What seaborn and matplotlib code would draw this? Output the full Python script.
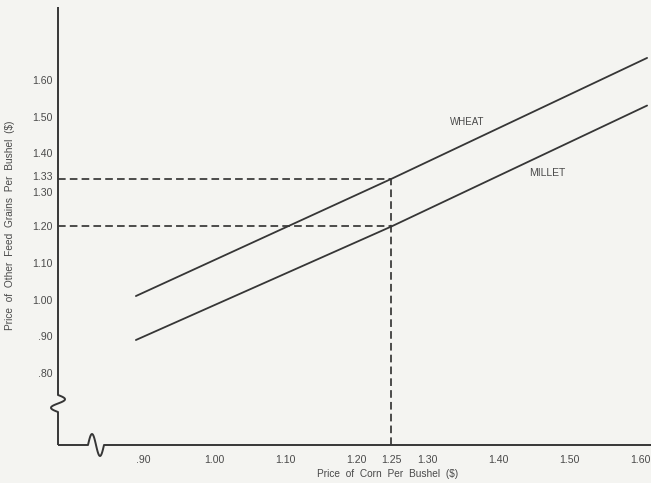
import numpy as np
import pandas as pd
import seaborn as sns
import matplotlib.pyplot as plt
import matplotlib.transforms as mtransforms

# Values
corn_price = [0.89, 1.25, 1.61]
wheat_price = [1.01, 1.33, 1.66]
millet_price = [0.89, 1.20, 1.53]

# Reference point marked with dashed guides
marked_corn = 1.25
marked_wheat = 1.33
marked_millet = 1.20

x_ticks = [0.90, 1.00, 1.10, 1.20, 1.25, 1.30, 1.40, 1.50, 1.60]
x_tick_labels = [".90", "1.00", "1.10", "1.20", "1.25", "1.30", "1.40", "1.50", "1.60"]
y_ticks = [0.80, 0.90, 1.00, 1.10, 1.20, 1.30, 1.33, 1.40, 1.50, 1.60]
y_tick_labels = [".80", ".90", "1.00", "1.10", "1.20", "1.30", "1.33", "1.40", "1.50", "1.60"]

df = pd.DataFrame({"corn": corn_price, "wheat": wheat_price, "millet": millet_price})

sns.set_style("white")
plt.rcParams['font.family'] = ['Liberation Sans', 'DejaVu Sans']

bg = "#f4f4f1"
ink = "#363636"
text_c = "#4a4a4a"

W, H = 651, 483
fig = plt.figure(figsize=(W / 100, H / 100), dpi=100, facecolor=bg)
# axes frame in pixels: left 58, bottom 445, top 7, right edge
ax_l, ax_b, ax_t = 58, 445, 7
ax = fig.add_axes([ax_l / W, (H - ax_b) / H, (W - ax_l) / W, (ax_b - ax_t) / H])
ax.set_facecolor(bg)

xmin, xmax = 0.7803, 1.6155
ymin, ymax = 0.6034, 1.799
ax.set_xlim(xmin, xmax)
ax.set_ylim(ymin, ymax)

# Supply lines
sns.lineplot(data=df, x="corn", y="wheat", color=ink, linewidth=1.3, ax=ax)
sns.lineplot(data=df, x="corn", y="millet", color=ink, linewidth=1.3, ax=ax)

# Dashed guides
dash = (0, (4.4, 2.4))
ax.hlines([marked_wheat, marked_millet], xmin, marked_corn, colors=ink,
          linestyles=dash, linewidth=1.25)
ax.vlines(marked_corn, ymin, marked_wheat, colors=ink, linestyles=dash, linewidth=1.25)

ax.text(1.356, 1.485, "WHEAT", fontsize=7, color=text_c, ha="center", va="center")
ax.text(1.469, 1.346, "MILLET", fontsize=7.5, color=text_c, ha="center", va="center")

# Ticks
ax.set_xticks(x_ticks)
ax.set_xticklabels(x_tick_labels)
ax.set_yticks(y_ticks)
ax.set_yticklabels(y_tick_labels)
ax.tick_params(axis="both", length=0, labelsize=7.6, labelcolor=text_c)
ax.tick_params(axis="x", pad=7)
ax.tick_params(axis="y", pad=4)

# pull the crowded 1.33 / 1.30 labels apart a little
for lab in ax.get_yticklabels():
    shift = {"1.33": 3, "1.30": -2}.get(lab.get_text())
    if shift:
        off = mtransforms.ScaledTranslation(0, shift / 100, fig.dpi_scale_trans)
        lab.set_transform(lab.get_transform() + off)

ax.set_xlabel("Price  of  Corn  Per  Bushel  (\\$)", fontsize=7.3, color=text_c)
ax.set_ylabel("Price  of  Other  Feed  Grains  Per  Bushel  (\\$)", fontsize=7.3, color=text_c)
ax.xaxis.set_label_coords((388 - ax_l) / (W - ax_l), -0.054)
ax.yaxis.set_label_coords(-0.0725, 0.502)

# Axis lines with break marks, drawn by hand (pixel -> axes fraction)
for s in ax.spines.values():
    s.set_visible(False)

aw, ah = W - ax_l, ax_b - ax_t


def to_ax(px, py):
    return (np.asarray(px) - ax_l) / aw, (ax_b - np.asarray(py)) / ah


t = np.linspace(0, 1, 60)
# y-axis with S break
yx = np.concatenate([[58, 58], 58 - 7 * np.sin(2 * np.pi * t), [58, 58]])
yy = np.concatenate([[445, 412], 412 - 17 * t, [395, 7]])
ax.plot(*to_ax(yx, yy), transform=ax.transAxes, color=ink, lw=1.4,
        clip_on=False, solid_capstyle="butt")
# x-axis with break
xx = np.concatenate([[58, 88], 88 + 16 * t, [104, W]])
xy = np.concatenate([[445, 445], 445 - 11 * np.sin(2 * np.pi * t), [445, 445]])
ax.plot(*to_ax(xx, xy), transform=ax.transAxes, color=ink, lw=1.4,
        clip_on=False, solid_capstyle="butt")

fig.savefig("out.png", dpi=100, facecolor=bg)
